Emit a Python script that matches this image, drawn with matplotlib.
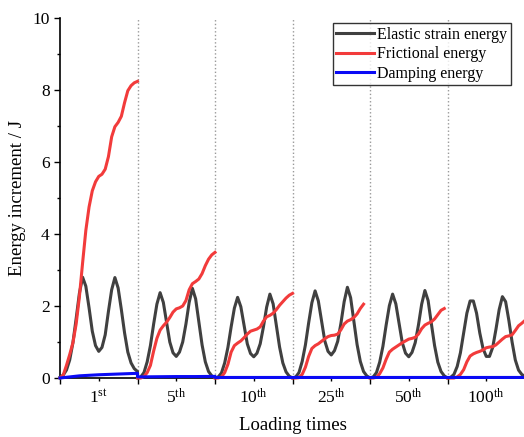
import numpy as np
import matplotlib.pyplot as plt

plt.rcParams['font.family'] = ['Liberation Serif', 'DejaVu Serif']
plt.rcParams['mathtext.fontset'] = 'custom'
plt.rcParams['mathtext.rm'] = 'Liberation Serif'
plt.rcParams['mathtext.it'] = 'Liberation Serif:italic'

# Loading cycles shown (one block each)
cycles = [r'1$^{\mathrm{st}}$', r'5$^{\mathrm{th}}$', r'10$^{\mathrm{th}}$',
          r'25$^{\mathrm{th}}$', r'50$^{\mathrm{th}}$', r'100$^{\mathrm{th}}$']

# phase inside one block, 25 samples
phase = np.linspace(0, 1, 25)

# Elastic strain energy (J), one list per block
elastic_1 = [0.02, 0.08, 0.22, 0.5, 0.98, 1.65, 2.35, 2.8, 2.55, 1.95, 1.3, 0.9, 0.74,
             0.85, 1.2, 1.85, 2.45, 2.79, 2.5, 1.9, 1.25, 0.72, 0.42, 0.26, 0.18]
elastic_5 = [0.0, 0.03, 0.15, 0.45, 0.9, 1.5, 2.05, 2.37, 2.1, 1.55, 1.0, 0.7, 0.6,
             0.72, 1.0, 1.5, 2.1, 2.49, 2.2, 1.55, 0.92, 0.45, 0.18, 0.06, 0.01]
elastic_10 = [0.0, 0.03, 0.14, 0.42, 0.85, 1.42, 1.94, 2.24, 1.98, 1.47, 0.95, 0.68, 0.59,
              0.69, 0.95, 1.42, 1.97, 2.33, 2.06, 1.45, 0.86, 0.42, 0.17, 0.05, 0.0]
elastic_25 = [0.0, 0.03, 0.15, 0.46, 0.92, 1.53, 2.09, 2.42, 2.14, 1.58, 1.03, 0.74, 0.64,
              0.76, 1.02, 1.52, 2.12, 2.52, 2.23, 1.57, 0.93, 0.46, 0.18, 0.06, 0.0]
elastic_50 = [0.0, 0.03, 0.15, 0.44, 0.88, 1.47, 2.01, 2.33, 2.06, 1.52, 0.98, 0.69, 0.59,
              0.71, 0.98, 1.47, 2.05, 2.43, 2.15, 1.51, 0.9, 0.44, 0.18, 0.06, 0.0]
elastic_100 = [0.0, 0.02, 0.1, 0.32, 0.7, 1.25, 1.8, 2.14, 2.14, 1.8, 1.25, 0.82, 0.6,
               0.6, 0.85, 1.35, 1.9, 2.26, 2.12, 1.6, 1.0, 0.5, 0.22, 0.1, 0.04]

# Frictional energy (J)
friction_1 = [0.0, 0.08, 0.35, 0.65, 0.98, 1.5, 2.25, 3.2, 4.1, 4.75, 5.2, 5.45, 5.6,
              5.66, 5.8, 6.15, 6.7, 6.98, 7.1, 7.27, 7.65, 7.98, 8.12, 8.2, 8.24]
friction_5 = [0.0, 0.0, 0.04, 0.15, 0.35, 0.75, 1.1, 1.33, 1.45, 1.55, 1.68, 1.83, 1.92,
              1.95, 2.0, 2.15, 2.45, 2.62, 2.68, 2.75, 2.9, 3.12, 3.3, 3.42, 3.49]
friction_10 = [0.0, 0.0, 0.03, 0.15, 0.38, 0.72, 0.9, 0.97, 1.03, 1.12, 1.22, 1.3, 1.33,
               1.36, 1.42, 1.58, 1.7, 1.74, 1.8, 1.9, 2.02, 2.12, 2.22, 2.3, 2.35]
friction_25 = [0.0, 0.0, 0.01, 0.1, 0.3, 0.6, 0.82, 0.9, 0.95, 1.02, 1.09, 1.15, 1.18,
               1.19, 1.22, 1.34, 1.5, 1.58, 1.62, 1.68, 1.78, 1.93, 2.05, np.nan, np.nan]
friction_50 = [0.0, 0.0, 0.02, 0.12, 0.28, 0.52, 0.72, 0.8, 0.86, 0.92, 0.98, 1.03, 1.08,
               1.1, 1.13, 1.22, 1.37, 1.47, 1.52, 1.56, 1.64, 1.76, 1.88, 1.93, np.nan]
friction_100 = [0.0, 0.0, 0.0, 0.03, 0.1, 0.23, 0.45, 0.61, 0.67, 0.71, 0.74, 0.78, 0.84,
                0.86, 0.87, 0.92, 1.0, 1.08, 1.15, 1.17, 1.2, 1.32, 1.45, 1.52, 1.6]

# Damping energy (J), coarser samples
damp_phase = np.linspace(0, 1, 5)
damping_1 = [0.0, 0.06, 0.09, 0.11, 0.13]
damping_5 = [0.03, 0.035, 0.04, 0.04, 0.045]
damping_10 = [0.015, 0.015, 0.015, 0.015, 0.015]
damping_25 = [0.015, 0.015, 0.015, 0.015, 0.015]
damping_50 = [0.015, 0.015, 0.015, 0.015, 0.015]
damping_100 = [0.015, 0.015, 0.015, 0.015, 0.015]

elastic = [elastic_1, elastic_5, elastic_10, elastic_25, elastic_50, elastic_100]
friction = [friction_1, friction_5, friction_10, friction_25, friction_50, friction_100]
damping = [damping_1, damping_5, damping_10, damping_25, damping_50, damping_100]

c_el = '#404040'
c_fr = '#F23B3B'
c_dm = '#0A0AF5'
lw = 2.2

fig = plt.figure(figsize=(5.24, 4.37), dpi=100)
ax = fig.add_axes([60 / 524, 59 / 437, 465 / 524, 360 / 437])

n = len(cycles)
for b in range(1, n):
    ax.axvline(b, color='#999999', ls=':', lw=1, zorder=1)

# elastic and damping drawn as one continuous line each
x_el = np.concatenate([i + phase for i in range(n)])
ax.plot(x_el, np.concatenate(elastic), color=c_el, lw=lw, label='Elastic strain energy',
        clip_on=False, zorder=3)
for i in range(n):
    ax.plot(i + phase, friction[i], color=c_fr, lw=lw, clip_on=False, zorder=4,
            label='Frictional energy' if i == 0 else None)
x_dm = np.concatenate([i + damp_phase for i in range(n)])
ax.plot(x_dm, np.concatenate(damping), color=c_dm, lw=lw, label='Damping energy',
        clip_on=False, zorder=5)

ax.set_xlim(0, n)
ax.set_ylim(0, 10)
ax.set_xticks(range(n + 1))
ax.set_xticklabels([])
ax.set_xticks(np.arange(n) + 0.5, minor=True)
ax.set_xticklabels(cycles, minor=True)
ax.set_yticks([0, 2, 4, 6, 8, 10])
ax.set_yticks([1, 3, 5, 7, 9], minor=True)

ax.tick_params(axis='both', which='major', direction='out', length=4, width=1, labelsize=12.5)
ax.tick_params(axis='both', which='minor', direction='out', length=2.5, width=1, labelsize=12.5)
ax.tick_params(axis='x', which='minor', pad=5)

ax.spines['top'].set_visible(False)
ax.spines['right'].set_visible(False)
for s in ['left', 'bottom']:
    ax.spines[s].set_linewidth(1.2)

ax.set_xlabel('Loading times', fontsize=13.5, labelpad=7)
ax.set_ylabel('Energy increment / J', fontsize=13.5, labelpad=4.5)

leg = ax.legend(loc='upper right', bbox_to_anchor=(0.969, 0.985), borderaxespad=0,
                fontsize=11.5, frameon=True, fancybox=False, edgecolor='black',
                handlelength=2.4, handletextpad=0.2, labelspacing=0.22, borderpad=0.2)
leg.get_frame().set_linewidth(1)

fig.savefig('out.png', dpi=100)
